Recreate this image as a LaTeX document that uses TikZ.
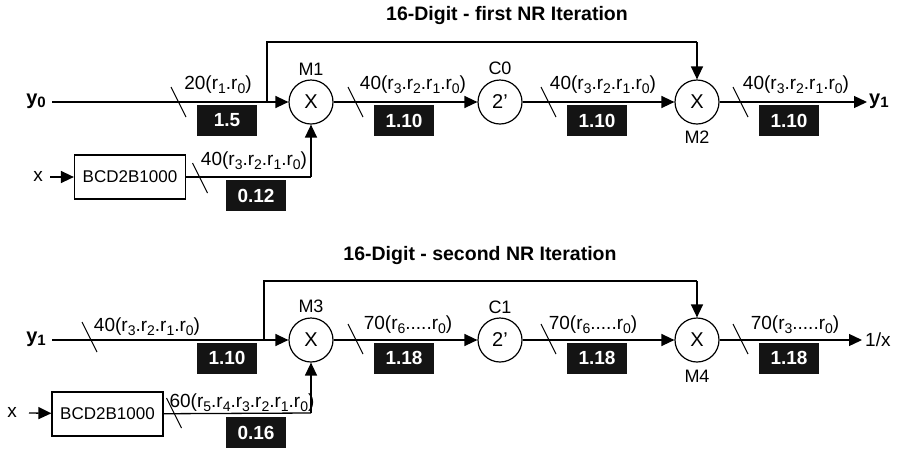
\documentclass[tikz,border=0pt]{standalone}
\usepackage{fontspec}
\setmainfont{Liberation Sans}
\usetikzlibrary{arrows.meta}
\newcommand\sbs[1]{\raisebox{-0.35ex}{\fontsize{14}{14}\selectfont #1}}
\begin{document}
\begin{tikzpicture}[x=1pt,y=-1pt,
  wire/.style={line width=1.3pt},
  arr/.style={wire,-{Triangle[length=13pt,width=12pt]}},
  op/.style={circle,draw,line width=1.2pt,minimum size=44pt,inner sep=0pt,font=\fontsize{20}{20}\selectfont},
  blk/.style={fill=black!92,text=white,font=\bfseries\fontsize{19}{19}\selectfont,minimum width=60pt,minimum height=31pt,inner sep=0pt},
  lbl/.style={font=\fontsize{19}{19}\selectfont,inner sep=0pt},
  nm/.style={font=\fontsize{18}{18}\selectfont,inner sep=0pt},
  ttl/.style={font=\bfseries\fontsize{19.5}{19.5}\selectfont,inner sep=0pt},
  io/.style={font=\bfseries\fontsize{20}{20}\selectfont,inner sep=0pt},
  bcd/.style={draw,line width=1.2pt,minimum width=111pt,minimum height=44pt,inner sep=0pt,font=\fontsize{17}{17}\selectfont},
  bitslash/.style={line width=1.1pt}]
\useasboundingbox (0,0) rectangle (897,448);

% ---------- first iteration ----------
\node[ttl] (t1) at (507,15) {16-Digit - first NR Iteration};
\node[io] (y0) at (36,101) {y\raisebox{-0.3ex}{\fontsize{15}{15}\selectfont 0}};
\coordinate (y0s) at (52,102);
\node[op] (M1) at (311,102) {X};
\node[nm] at (311,69) {M1};
\node[op] (C0) at (500,102) {2'};
\node[nm] at (500,68) {C0};
\node[op] (M2) at (697,102) {X};
\node[nm] at (697,137) {M2};
\coordinate (y1e) at (867,102);
\node[io,anchor=west] (y1o) at (869,101) {y\raisebox{-0.3ex}{\fontsize{15}{15}\selectfont 1}};
\coordinate (br1) at (267,102);
\coordinate (br1t) at (267,42);
\coordinate (m2t) at (697,42);
\node[bcd] (bcd1) at (130,177) {BCD2B1000};
\node[lbl] (x1) at (38,176) {x};
\coordinate (x1s) at (50,177);
\coordinate (bc1) at (311,177);

\draw[arr] (y0s) -- (M1);
\draw[wire] (br1) -- (br1t) -- (m2t);
\draw[arr] (m2t) -- (M2);
\draw[arr] (x1s) -- (bcd1);
\draw[wire] (bcd1) -- (bc1);
\draw[arr] (bc1) -- (M1);
\draw[arr] (M1) -- (C0);
\draw[arr] (C0) -- (M2);
\draw[arr] (M2) -- (y1e);

\foreach \p in {(178.5,102),(355.5,102),(548.5,102),(740.5,102),(200,178)}
  \draw[bitslash] \p ++(-7.5,-15) -- ++(15,30);

\node[lbl] at (218,85) {20(r\sbs{1}.r\sbs{0})};
\node[blk] at (227,120.5) {1.5};
\node[lbl] at (254,161) {40(r\sbs{3}.r\sbs{2}.r\sbs{1}.r\sbs{0})};
\node[blk] at (256,195.5) {0.12};
\node[lbl] at (413,85) {40(r\sbs{3}.r\sbs{2}.r\sbs{1}.r\sbs{0})};
\node[blk] at (404,120.5) {1.10};
\node[lbl] at (603,85) {40(r\sbs{3}.r\sbs{2}.r\sbs{1}.r\sbs{0})};
\node[blk] at (597,120.5) {1.10};
\node[lbl] at (796,85) {40(r\sbs{3}.r\sbs{2}.r\sbs{1}.r\sbs{0})};
\node[blk] at (789,120.5) {1.10};

% ---------- second iteration ----------
\node[ttl] (t2) at (480,255) {16-Digit - second NR Iteration};
\node[io] (y1i) at (36,339) {y\raisebox{-0.3ex}{\fontsize{15}{15}\selectfont 1}};
\coordinate (y1s) at (52,340);
\node[op] (M3) at (311,340) {X};
\node[nm] at (311,306) {M3};
\node[op] (C1) at (500,340) {2'};
\node[nm] at (500,307) {C1};
\node[op] (M4) at (697,340) {X};
\node[nm] at (697,376) {M4};
\coordinate (rxe) at (862,340);
\node[lbl,anchor=west] (rx) at (865,340) {1/x};
\coordinate (br2) at (264,340);
\coordinate (br2t) at (264,281);
\coordinate (m4t) at (697,281);
\node[bcd] (bcd2) at (107.5,414) {BCD2B1000};
\node[lbl] (x2) at (12,412) {x};
\coordinate (x2s) at (29,413);
\coordinate (bc2) at (311,413);

\draw[arr] (y1s) -- (M3);
\draw[wire] (br2) -- (br2t) -- (m4t);
\draw[arr] (m4t) -- (M4);
\draw[arr] (x2s) -- (bcd2);
\draw[wire] (bcd2) -- (bc2);
\draw[arr] (bc2) -- (M3);
\draw[arr] (M3) -- (C1);
\draw[arr] (C1) -- (M4);
\draw[arr] (M4) -- (rxe);

\foreach \p in {(89.5,337),(355.5,339),(548.5,339),(740.5,339),(174,413)}
  \draw[bitslash] \p ++(-7.5,-15) -- ++(15,30);

\node[lbl] at (147,327) {40(r\sbs{3}.r\sbs{2}.r\sbs{1}.r\sbs{0})};
\node[blk] at (227,358) {1.10};
\node[lbl] at (242,403) {60(r\sbs{5}.r\sbs{4}.r\sbs{3}.r\sbs{2}.r\sbs{1}.r\sbs{0})};
\node[blk] at (256,432.5) {0.16};
\node[lbl] at (408,325) {70(r\sbs{6}.....r\sbs{0})};
\node[blk] at (404,358) {1.18};
\node[lbl] at (593,325) {70(r\sbs{6}.....r\sbs{0})};
\node[blk] at (597,358) {1.18};
\node[lbl] at (795,325) {70(r\sbs{3}.....r\sbs{0})};
\node[blk] at (789,358) {1.18};
\end{tikzpicture}
\end{document}
